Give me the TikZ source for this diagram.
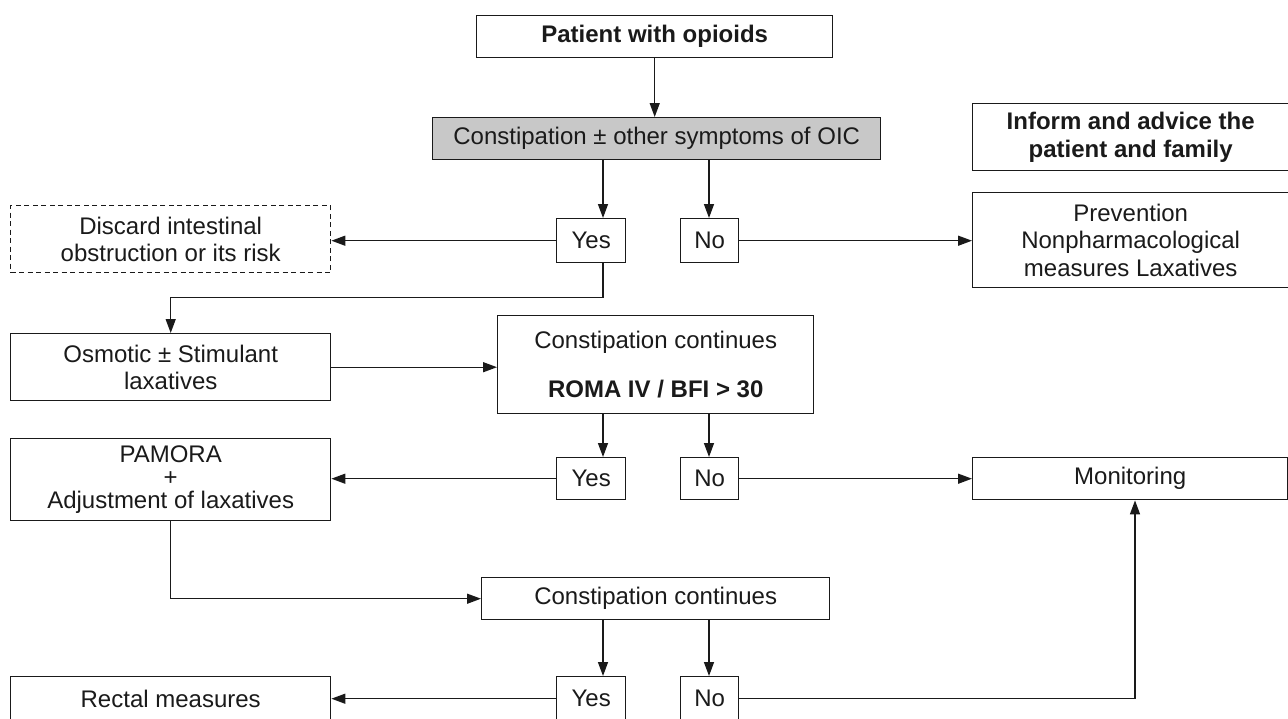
\documentclass[tikz,border=0pt]{standalone}
\usepackage{fontspec}
\setmainfont{Liberation Sans}
\usetikzlibrary{arrows.meta}
\definecolor{grayfill}{HTML}{C8C8C8}
\definecolor{ink}{HTML}{1A1A1A}
\begin{document}
\begin{tikzpicture}[x=1pt,y=-1pt,
  box/.style={draw=ink, line width=1.4pt, anchor=north west, inner sep=0pt,
    align=center, font=\fontsize{24}{27.5}\selectfont, text=ink},
  dashbox/.style={box, dash pattern=on 5pt off 3.5pt},
  conn/.style={line width=1.4pt, draw=ink, -{Triangle[length=14pt,width=10pt]}}]
\useasboundingbox (0,0) rectangle (1288,718);
\clip (0,0) rectangle (1288,718);
% helper x positions
\coordinate (xA) at (603,0);
\coordinate (xB) at (709,0);
\coordinate (xM) at (1135,0);
% nodes
\node[box, minimum width=356pt, minimum height=42pt] (pat) at (476,15) {\textbf{Patient with opioids}};
\node[box, fill=grayfill, minimum width=448pt, minimum height=42pt] (gray) at (432,117) {Constipation ± other symptoms of OIC};
\node[box, minimum width=330pt, minimum height=67pt] (inform) at (972,103) {\hspace*{-14pt}\textbf{Inform and advice the}\\\hspace*{-14pt}\textbf{patient and family}};
\node[dashbox, minimum width=320pt, minimum height=67pt] (disc) at (10,205) {Discard intestinal\\obstruction or its risk};
\node[box, minimum width=69pt, minimum height=44pt] (yes1) at (556,218) {Yes};
\node[box, minimum width=58pt, minimum height=44pt] (no1) at (680,218) {No};
\node[box, minimum width=330pt, minimum height=95pt] (prev) at (972,192) {\hspace*{-14pt}Prevention\\\hspace*{-14pt}Nonpharmacological\\\hspace*{-14pt}measures Laxatives};
\node[box, minimum width=320pt, minimum height=67pt] (osm) at (10,333) {Osmotic ± Stimulant\\laxatives};
\node[box, minimum width=316pt, minimum height=98pt] (cc1) at (497,315) {Constipation continues\\[22pt]\textbf{ROMA IV / BFI > 30}};
\node[box, minimum width=69pt, minimum height=42pt] (yes2) at (556,457) {Yes};
\node[box, minimum width=58pt, minimum height=42pt] (no2) at (680,457) {No};
\node[box, minimum width=320pt, minimum height=82pt, font=\fontsize{24}{23}\selectfont] (pam) at (10,438) {PAMORA\\+\\Adjustment of laxatives};
\node[box, minimum width=315pt, minimum height=42pt] (mon) at (972,457) {Monitoring};
\node[box, minimum width=348pt, minimum height=42pt] (cc2) at (481,577) {Constipation continues};
\node[box, minimum width=69pt, minimum height=44pt] (yes3) at (556,676) {Yes};
\node[box, minimum width=58pt, minimum height=44pt] (no3) at (680,676) {No};
\node[box, minimum width=320pt, minimum height=44pt] (rect) at (10,676) {Rectal measures};
% connectors
\draw[conn] (pat.south) -- (pat.south |- gray.north);
\draw[conn] (gray.south -| xA) -- (yes1.north -| xA);
\draw[conn] (gray.south -| xB) -- (no1.north -| xB);
\draw[conn] (yes1.west) -- (yes1.west -| disc.east);
\draw[conn] (no1.east) -- (no1.east -| prev.west);
\draw[conn] (yes1.south -| xA) -- ++(0,34) -| (osm.north);
\draw[conn] (osm.east) -- (osm.east -| cc1.west);
\draw[conn] (cc1.south -| xA) -- (yes2.north -| xA);
\draw[conn] (cc1.south -| xB) -- (no2.north -| xB);
\draw[conn] (yes2.west) -- (yes2.west -| pam.east);
\draw[conn] (no2.east) -- (no2.east -| mon.west);
\draw[conn] (pam.south) |- (cc2.west);
\draw[conn] (cc2.south -| xA) -- (yes3.north -| xA);
\draw[conn] (cc2.south -| xB) -- (no3.north -| xB);
\draw[conn] (yes3.west) -- (yes3.west -| rect.east);
\draw[conn] (no3.east) -| (mon.south -| xM);
\end{tikzpicture}
\end{document}
